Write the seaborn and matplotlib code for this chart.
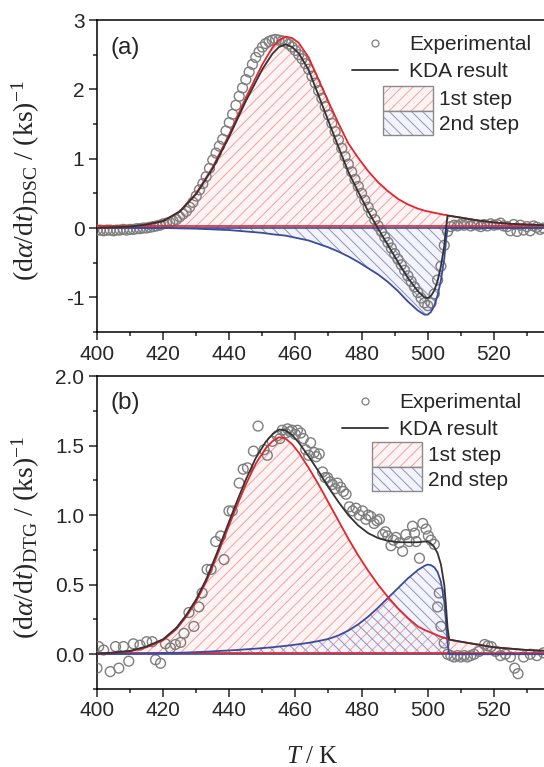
import numpy as np
import matplotlib
matplotlib.use("Agg")
import matplotlib.pyplot as plt
from matplotlib.lines import Line2D
from matplotlib.patches import Patch
from matplotlib.ticker import MultipleLocator, FixedLocator, FormatStrFormatter
import seaborn as sns

# ---------------- data ----------------
# (a) DSC: model curves
T_fit_a = [400, 405, 410, 415, 420, 425, 430, 435, 440, 445, 450, 453, 455, 457, 459,
           461, 464, 467, 470, 473, 476, 479, 482, 485, 488, 491, 494, 497, 499, 500,
           501, 502, 503, 504, 505, 505.5, 506, 510, 515, 520, 525, 530, 535, 540]
step1_a = [0.00, 0.01, 0.02, 0.05, 0.10, 0.24, 0.50, 0.88, 1.35, 1.88, 2.36, 2.60, 2.71, 2.76, 2.74,
           2.67, 2.46, 2.14, 1.82, 1.51, 1.22, 1.01, 0.82, 0.66, 0.53, 0.42, 0.34, 0.28, 0.25, 0.24,
           0.23, 0.22, 0.21, 0.20, 0.19, 0.19, 0.18, 0.15, 0.11, 0.08, 0.06, 0.05, 0.04, 0.03]
step2_a = [0.00, 0.00, 0.00, 0.00, 0.00, -0.005, -0.01, -0.02, -0.03, -0.05, -0.07, -0.09, -0.10, -0.11, -0.13,
           -0.15, -0.18, -0.23, -0.28, -0.34, -0.41, -0.49, -0.58, -0.67, -0.78, -0.91, -1.06, -1.19, -1.25, -1.25,
           -1.21, -1.12, -0.97, -0.75, -0.45, -0.20, 0.00, 0.00, 0.00, 0.00, 0.00, 0.00, 0.00, 0.00]
kda_a = [0.00, 0.01, 0.02, 0.05, 0.10, 0.235, 0.49, 0.86, 1.32, 1.83, 2.29, 2.51, 2.61, 2.65, 2.61,
         2.52, 2.28, 1.91, 1.54, 1.17, 0.81, 0.52, 0.24, -0.01, -0.25, -0.49, -0.72, -0.91, -1.00, -1.01,
         -0.98, -0.90, -0.76, -0.55, -0.26, -0.01, 0.18, 0.15, 0.11, 0.08, 0.06, 0.05, 0.04, 0.03]

# (a) DSC: measured points, 1 K apart from 400 K
T_exp_a = list(range(400, 536))
rate_exp_a = [
    -0.03, -0.03, -0.04, -0.03, -0.03, -0.04, -0.03, -0.03, -0.02, -0.03,
    -0.02, -0.02, -0.01, -0.01, 0.00, 0.00, 0.01, 0.02, 0.03, 0.04,
    0.06, 0.07, 0.08, 0.10, 0.12, 0.16, 0.20, 0.24, 0.30, 0.37,
    0.46, 0.55, 0.64, 0.74, 0.86, 0.98, 1.08, 1.18, 1.28, 1.40,
    1.52, 1.64, 1.77, 1.90, 2.02, 2.14, 2.25, 2.36, 2.46, 2.54,
    2.61, 2.66, 2.69, 2.71, 2.72, 2.71, 2.70, 2.68, 2.65, 2.61,
    2.56, 2.50, 2.44, 2.37, 2.29, 2.19, 2.09, 1.98, 1.87, 1.75,
    1.63, 1.51, 1.39, 1.27, 1.15, 1.03, 0.92, 0.81, 0.70, 0.60,
    0.50, 0.40, 0.30, 0.21, 0.12, 0.03, -0.05, -0.13, -0.21, -0.29,
    -0.37, -0.45, -0.53, -0.61, -0.69, -0.77, -0.85, -0.93, -1.01, -1.08,
    -1.12, -1.08, -0.95, -0.75, -0.55, -0.25, -0.05, 0.02, 0.04, 0.03,
    0.05, 0.04, 0.06, 0.03, 0.05, 0.04, 0.02, 0.05, 0.03, 0.06,
    0.04, 0.05, 0.07, 0.03, 0.02, -0.04, 0.05, -0.05, 0.04, -0.03,
    0.02, -0.04, 0.03, 0.01, -0.02, 0.00,
]

# (b) DTG: model curves
T_fit_b = [400, 405, 410, 415, 420, 424, 427, 430, 433, 436, 439, 442, 445, 448, 451,
           453, 455, 457, 459, 461, 464, 467, 470, 473, 476, 479, 482, 485, 488, 491,
           494, 497, 499, 500, 501, 502, 503, 504, 505, 505.5, 506, 506.5, 510, 515, 520,
           525, 530, 535, 540]
step1_b = [0.005, 0.01, 0.02, 0.05, 0.10, 0.18, 0.27, 0.38, 0.52, 0.69, 0.87, 1.05, 1.22, 1.37, 1.48,
           1.53, 1.56, 1.55, 1.51, 1.45, 1.34, 1.22, 1.09, 0.96, 0.83, 0.71, 0.60, 0.50, 0.41, 0.33,
           0.26, 0.20, 0.175, 0.165, 0.155, 0.145, 0.135, 0.125, 0.12, 0.115, 0.11, 0.105, 0.09, 0.07, 0.05,
           0.04, 0.03, 0.025, 0.02]
step2_b = [0.00, 0.002, 0.004, 0.006, 0.008, 0.01, 0.012, 0.015, 0.018, 0.022, 0.026, 0.03, 0.035, 0.04, 0.046,
           0.05, 0.055, 0.06, 0.066, 0.072, 0.082, 0.095, 0.11, 0.135, 0.17, 0.215, 0.27, 0.335, 0.405, 0.475,
           0.545, 0.605, 0.635, 0.645, 0.64, 0.625, 0.59, 0.52, 0.38, 0.24, 0.08, 0.00, 0.00, 0.00, 0.00,
           0.00, 0.00, 0.00, 0.00]
kda_b = [0.005, 0.012, 0.024, 0.056, 0.108, 0.19, 0.282, 0.395, 0.538, 0.712, 0.896, 1.08, 1.255, 1.41, 1.526,
         1.58, 1.615, 1.61, 1.576, 1.522, 1.422, 1.315, 1.20, 1.095, 1.00, 0.925, 0.87, 0.835, 0.815, 0.805,
         0.805, 0.805, 0.81, 0.81, 0.795, 0.77, 0.725, 0.645, 0.50, 0.355, 0.19, 0.105, 0.09, 0.07, 0.05,
         0.04, 0.03, 0.025, 0.02]

# (b) DTG: measured points
T_exp_b = [400.0, 400.5, 402.0, 404.0, 405.6, 406.6, 408.0, 409.6, 411.0, 413.0,
           415.0, 416.7, 417.7, 419.2, 420.7, 422.2, 423.7, 425.3, 426.3, 427.8,
           429.3, 430.8, 431.8, 433.3, 434.5, 435.9, 437.4, 438.4, 439.9, 440.9,
           443.0, 444.2, 445.5, 447.3, 448.7, 450.5, 451.5, 453.0, 454.5, 455.3,
           456.0, 457.0, 457.6, 458.4, 459.0, 460.0, 460.6, 461.6, 462.4, 463.1,
           464.0, 464.6, 465.7, 466.3, 467.2, 468.2, 469.0, 469.7, 470.5, 471.2,
           472.0, 472.7, 473.7, 474.5, 475.3, 476.3, 477.3, 478.3, 479.3, 480.3,
           481.3, 482.0, 482.8, 483.8, 484.6, 485.4, 486.4, 487.2, 487.9, 488.9,
           489.6, 490.4, 491.4, 492.4, 493.4, 494.4, 495.4, 496.0, 496.5, 497.5,
           498.5, 499.5, 500.2, 501.0, 502.0, 503.0, 503.5, 504.0, 505.0, 506.0,
           507.0, 508.0, 509.0, 510.0, 511.0, 512.0, 513.0, 514.0, 515.5, 517.2,
           518.2, 519.2, 520.5, 522.0, 523.5, 525.0, 526.3, 527.3, 529.0, 531.0,
           533.0, 535.0]
rate_exp_b = [-0.10, 0.055, 0.03, -0.125, 0.055, -0.10, 0.055, -0.05, 0.075, 0.065,
              0.09, 0.09, -0.04, -0.065, 0.075, 0.045, 0.07, 0.085, 0.15, 0.30,
              0.20, 0.34, 0.44, 0.61, 0.61, 0.81, 0.85, 0.68, 1.03, 1.03,
              1.23, 1.33, 1.34, 1.46, 1.64, 1.47, 1.43, 1.53, 1.57, 1.55,
              1.61, 1.59, 1.62, 1.60, 1.61, 1.58, 1.61, 1.59, 1.55, 1.47,
              1.43, 1.52, 1.45, 1.42, 1.44, 1.31, 1.27, 1.27, 1.24, 1.22,
              1.19, 1.23, 1.20, 1.17, 1.15, 1.06, 1.03, 1.05, 1.00, 1.03,
              0.97, 1.00, 0.99, 0.94, 0.96, 0.97, 0.86, 0.88, 0.85, 0.78,
              0.82, 0.84, 0.80, 0.74, 0.86, 0.81, 0.92, 0.87, 0.81, 0.69,
              0.94, 0.90, 0.85, 0.82, 0.79, 0.34, 0.44, 0.20, 0.08, 0.00,
              -0.01, -0.02, -0.01, -0.02, -0.01, -0.02, -0.01, 0.00, 0.02, 0.07,
              0.06, 0.055, 0.02, -0.01, 0.00, -0.02, -0.10, -0.14, -0.02, 0.00,
              -0.01, 0.01]

x_major_ticks = [400, 420, 440, 460, 480, 500, 520]

# ---------------- style ----------------
sns.set_style("ticks")
plt.rcParams.update({
    "font.family": ["Liberation Sans", "DejaVu Sans"],
    "mathtext.fontset": "custom",
    "mathtext.rm": "Liberation Serif",
    "mathtext.it": "Liberation Serif:italic",
    "mathtext.bf": "Liberation Serif:bold",
    "axes.unicode_minus": False,
    "hatch.linewidth": 0.7,
    "axes.linewidth": 1.1,
    "axes.edgecolor": "black",
})

RED = "#e3252c"
BLUE = "#3b4b9e"
BLACK = "#333333"
GRAY = "#7e7e7e"
RED_FACE = "#fff3f3"
BLUE_FACE = "#f3f4fb"
RED_HATCH = "#f0a2a2"
BLUE_HATCH = "#8d93bd"

W, H = 544, 767
fig = plt.figure(figsize=(W / 100, H / 100), dpi=100)


def px_axes(left, top, right, bottom):
    return fig.add_axes([left / W, 1 - bottom / H, (right - left) / W, (bottom - top) / H])


def draw_panel(ax, T_fit, s1, s2, kda, T_exp, r_exp, red_base):
    T_fit = np.asarray(T_fit)
    # pale fills first, hatching on top, so overlapping areas cross-hatch
    ax.fill_between(T_fit, 0, s1, facecolor=RED_FACE, edgecolor="none", lw=0, zorder=1)
    ax.fill_between(T_fit, 0, s2, facecolor=BLUE_FACE, edgecolor="none", lw=0, zorder=1)
    ax.fill_between(T_fit, 0, s1, facecolor="none", edgecolor=RED_HATCH, hatch="///", lw=0, zorder=2)
    ax.fill_between(T_fit, 0, s2, facecolor="none", edgecolor=BLUE_HATCH, hatch="\\\\\\", lw=0, zorder=2)
    sns.scatterplot(x=T_exp, y=r_exp, ax=ax, marker="o", s=50, color="none",
                    edgecolor=GRAY, linewidth=1.0, zorder=3, legend=False)
    ax.axhline(0, color=BLUE, lw=1.2, zorder=4)
    ax.axhline(red_base, color=RED, lw=1.2, zorder=4)
    sns.lineplot(x=T_fit, y=s2, ax=ax, color=BLUE, lw=1.3, estimator=None, zorder=5)
    sns.lineplot(x=T_fit, y=s1, ax=ax, color=RED, lw=1.3, estimator=None, zorder=5)
    sns.lineplot(x=T_fit, y=kda, ax=ax, color=BLACK, lw=1.3, estimator=None, zorder=6)


def style_axes(ax, ylo, yhi, ymaj, ymin):
    ax.set_xlim(400, 540)
    ax.set_ylim(ylo, yhi)
    ax.xaxis.set_major_locator(FixedLocator(x_major_ticks))
    ax.xaxis.set_minor_locator(MultipleLocator(10))
    ax.yaxis.set_major_locator(MultipleLocator(ymaj))
    ax.yaxis.set_minor_locator(MultipleLocator(ymin))
    ax.tick_params(which="major", direction="out", length=6, width=1.1, labelsize=15, pad=3)
    ax.tick_params(which="minor", direction="out", length=3.2, width=1.1)
    for s in ax.spines.values():
        s.set_visible(True)
        s.set_linewidth(1.1)
    ax.set_xlabel("")


def add_legends(x_line, y_top, x_patch, y_patch):
    h_exp = Line2D([], [], ls="none", marker="o", ms=5, mfc="none", mec=GRAY, mew=0.9)
    h_kda = Line2D([], [], color=BLACK, lw=1.3)
    fig.legend([h_exp, h_kda], ["Experimental", "KDA result"],
               loc="upper left", bbox_to_anchor=(x_line / W, 1 - y_top / H),
               bbox_transform=fig.transFigure, frameon=False, fontsize=15,
               handlelength=2.2, handletextpad=0.55, labelspacing=0.38,
               borderpad=0, borderaxespad=0)
    h1 = (Patch(facecolor=RED_FACE, edgecolor=RED_HATCH, hatch="///", lw=0),
          Patch(facecolor="none", edgecolor="#8a8a8a", lw=1.0))
    h2 = (Patch(facecolor=BLUE_FACE, edgecolor=BLUE_HATCH, hatch="\\\\\\", lw=0),
          Patch(facecolor="none", edgecolor="#8a8a8a", lw=1.0))
    fig.legend([h1, h2], ["1st step", "2nd step"],
               loc="upper left", bbox_to_anchor=(x_patch / W, 1 - y_patch / H),
               bbox_transform=fig.transFigure, frameon=False, fontsize=15,
               handlelength=2.4, handleheight=1.45, handletextpad=0.3, labelspacing=0.0,
               borderpad=0, borderaxespad=0)


# ---------------- panel (a) ----------------
ax_a = px_axes(97, 20, 560, 332)
style_axes(ax_a, -1.5, 3.0, 1, 0.5)
draw_panel(ax_a, T_fit_a, step1_a, step2_a, kda_a, T_exp_a, rate_exp_a, 0.025)
ax_a.set_ylabel(r"$(\mathrm{d}\alpha/\mathrm{d}t)_{\mathrm{DSC}}\ /\ (\mathrm{ks})^{-1}$", fontsize=20)
ax_a.yaxis.set_label_coords(-0.118, 0.485)
ax_a.text(0.03, 0.91, "(a)", transform=ax_a.transAxes, fontsize=17.5, va="center", ha="left")
add_legends(352, 35, 383, 86)

# ---------------- panel (b) ----------------
ax_b = px_axes(97, 376, 560, 689)
style_axes(ax_b, -0.25, 2.0, 0.5, 0.25)
ax_b.yaxis.set_major_formatter(FormatStrFormatter("%.1f"))
draw_panel(ax_b, T_fit_b, step1_b, step2_b, kda_b, T_exp_b, rate_exp_b, 0.012)
ax_b.set_ylabel(r"$(\mathrm{d}\alpha/\mathrm{d}t)_{\mathrm{DTG}}\ /\ (\mathrm{ks})^{-1}$", fontsize=20)
ax_b.yaxis.set_label_coords(-0.118, 0.485)
ax_b.set_xlabel(r"$T\ /\ \mathrm{K}$", fontsize=18)
ax_b.xaxis.set_label_coords((312 - 97) / 463, -0.175)
ax_b.text(0.03, 0.914, "(b)", transform=ax_b.transAxes, fontsize=17.5, va="center", ha="left")
add_legends(342, 393, 372, 442)

fig.savefig("out.png", dpi=100)
